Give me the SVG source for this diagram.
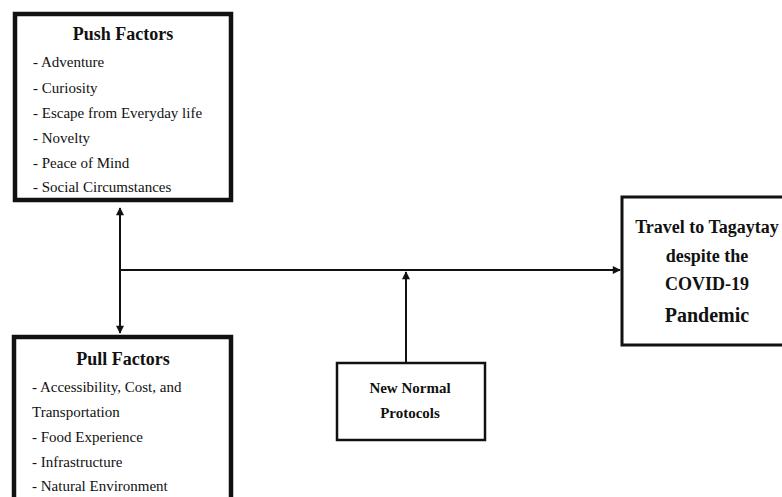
<svg xmlns="http://www.w3.org/2000/svg" width="782" height="497" viewBox="0 0 782 497">
<style>
.box{fill:#fff;stroke:#111;}
.t{font-family:"Liberation Serif","Times New Roman",serif;fill:#111;}
.h{font-weight:bold;font-size:18px;text-anchor:middle;}
.i{font-size:15px;}
.c{stroke:#111;stroke-width:2;fill:none;}
</style>
<defs>
<marker id="ah" viewBox="0 0 10 10" refX="9" refY="5" markerWidth="9" markerHeight="8" orient="auto-start-reverse" markerUnits="userSpaceOnUse">
<path d="M0,0 L10,5 L0,10 z" fill="#111"/>
</marker>
</defs>
<rect width="782" height="497" fill="#fff"/>
<g id="connectors">
<line class="c" x1="120" y1="208" x2="120" y2="333" marker-start="url(#ah)" marker-end="url(#ah)"/>
<line class="c" x1="120" y1="270" x2="620" y2="270" marker-end="url(#ah)"/>
<line class="c" x1="406" y1="362" x2="406" y2="272" marker-end="url(#ah)"/>
</g>
<g id="push">
<rect class="box" x="15" y="14" width="216" height="186" stroke-width="4.5"/>
<text class="t h" x="123" y="40">Push Factors</text>
<text class="t i" x="33" y="67">-  Adventure</text>
<text class="t i" x="33" y="93">- Curiosity</text>
<text class="t i" x="33" y="118">- Escape from Everyday life</text>
<text class="t i" x="33" y="143">- Novelty</text>
<text class="t i" x="33" y="168">- Peace of Mind</text>
<text class="t i" x="33" y="192">- Social Circumstances</text>
</g>
<g id="pull">
<rect class="box" x="14" y="337" width="217" height="180" stroke-width="4.5"/>
<text class="t h" x="123" y="365">Pull Factors</text>
<text class="t i" x="32" y="392">- Accessibility, Cost, and</text>
<text class="t i" x="32" y="417">Transportation</text>
<text class="t i" x="32" y="442">- Food Experience</text>
<text class="t i" x="32" y="467">- Infrastructure</text>
<text class="t i" x="32" y="491">- Natural Environment</text>
</g>
<g id="travel">
<rect class="box" x="622" y="197" width="170" height="148" stroke-width="3"/>
<text class="t h" x="707" y="233">Travel to Tagaytay</text>
<text class="t h" x="707" y="262">despite the</text>
<text class="t h" x="707" y="290">COVID-19</text>
<text class="t h" x="707" y="322" style="font-size:20px">Pandemic</text>
</g>
<g id="protocols">
<rect class="box" x="337" y="363" width="148" height="77" stroke-width="2.5"/>
<text class="t h" x="410" y="393" style="font-size:15px">New Normal</text>
<text class="t h" x="410" y="418" style="font-size:15px">Protocols</text>
</g>
</svg>
